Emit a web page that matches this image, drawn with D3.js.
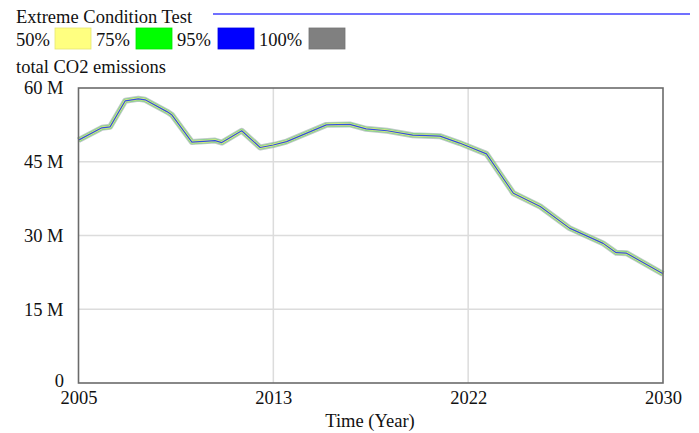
<!DOCTYPE html>
<html><head><meta charset="utf-8">
<script src="https://cdn.jsdelivr.net/npm/d3@7"></script>
<style>
html,body{margin:0;padding:0;background:#fff;}
svg{display:block;}
svg text{font-family:"Liberation Serif","Times New Roman",serif;}
</style></head>
<body>
<svg id="c" width="699" height="433"></svg>
<script>
// ---- data ----
const title = "Extreme Condition Test";
const variableName = "total CO2 emissions";
const legendLabels = ["50%", "75%", "95%", "100%"];
const legendColors = ["#ffff80", "#00ff00", "#0000ff", "#808080"];
const years = [2005, 2006, 2006.35, 2007, 2007.56, 2007.85, 2008.78, 2009, 2009.85, 2010.84,
  2011.13, 2011.98, 2012.77, 2013.33, 2013.9, 2015.6, 2016.6, 2017.3, 2018.2, 2019.3,
  2020.46, 2021.3, 2022.45, 2023.6, 2024.75, 2026, 2027.44, 2028, 2028.44, 2030];
const emissions = [49.4, 51.9, 52.1, 57.4, 57.8, 57.6, 55.2, 54.5, 49.0, 49.3,
  48.9, 51.3, 47.9, 48.4, 49.1, 52.5, 52.6, 51.7, 51.3, 50.4,
  50.2, 48.8, 46.6, 38.6, 35.9, 31.5, 28.4, 26.5, 26.4, 22.2]; // millions
const xTicks = [2005, 2005 + 25/3, 2005 + 50/3, 2030];
const xTickLabels = ["2005", "2013", "2022", "2030"];
const yTicks = [0, 15, 30, 45, 60];
const yTickLabels = ["0", "15 M", "30 M", "45 M", "60 M"];
const xTitle = "Time (Year)";

// ---- layout ----
const FS = 18.5;
const svg = d3.select("#c");
const L = 78.5, R = 663, T = 88, B = 383;
const x = d3.scaleLinear().domain([2005, 2030]).range([L, R]);
const y = d3.scaleLinear().domain([0, 60]).range([B, T]);

// header
svg.append("text").attr("x", 16).attr("y", 23).attr("font-size", FS).attr("fill", "#111").text(title);
svg.append("line").attr("x1", 213).attr("x2", 690).attr("y1", 14).attr("y2", 14)
  .attr("stroke", "#4040ff").attr("stroke-width", 1.3);

// legend
const legX = [16, 96, 177, 259];
const swX = [55, 136, 218, 309];
legendLabels.forEach((lab, i) => {
  svg.append("text").attr("x", legX[i]).attr("y", 46).attr("font-size", FS).attr("fill", "#111").text(lab);
  svg.append("rect").attr("x", swX[i]).attr("y", 28).attr("width", 36).attr("height", 21)
    .attr("fill", legendColors[i]).attr("stroke", d3.color(legendColors[i]).darker(0.3)).attr("stroke-width", 0.8);
});
svg.append("text").attr("x", 16).attr("y", 73).attr("font-size", FS).attr("fill", "#111").text(variableName);

// grid
const g = svg.append("g");
xTicks.slice(1, -1).forEach(t => g.append("line").attr("x1", x(t)).attr("x2", x(t)).attr("y1", T).attr("y2", B)
  .attr("stroke", "#dcdcdc").attr("stroke-width", 1.5));
yTicks.slice(1, -1).forEach(t => g.append("line").attr("x1", L).attr("x2", R).attr("y1", y(t)).attr("y2", y(t))
  .attr("stroke", "#dcdcdc").attr("stroke-width", 1.5));

// axes via d3
const yAxis = d3.axisLeft(y).tickValues(yTicks.slice(1)).tickSize(0).tickPadding(15)
  .tickFormat((d) => yTickLabels[yTicks.indexOf(d)]);
const ya = svg.append("g").attr("transform", `translate(${L},0)`).call(yAxis);
ya.select(".domain").remove();
ya.selectAll("text").attr("font-family", "Liberation Serif").attr("font-size", FS).attr("fill", "#111");
svg.append("text").attr("x", 64).attr("y", 387).attr("text-anchor", "end").attr("font-size", FS).attr("fill", "#111").text(yTickLabels[0]);

const xAxis = d3.axisBottom(x).tickValues(xTicks).tickSize(0).tickPadding(8)
  .tickFormat((d, i) => xTickLabels[i]);
const xa = svg.append("g").attr("transform", `translate(0,${B})`).call(xAxis);
xa.select(".domain").remove();
xa.selectAll("text").attr("font-family", "Liberation Serif").attr("font-size", FS).attr("fill", "#111");
svg.append("text").attr("x", 370).attr("y", 427).attr("text-anchor", "middle").attr("font-size", FS).attr("fill", "#111").text(xTitle);

// series (bands drawn as stacked strokes)
const line = d3.line().x((d, i) => x(years[i])).y(d => y(d));
const layers = [
  {c: "#8a9a9a", w: 6, o: 0.55},
  {c: "#7fd67f", w: 4.2, o: 0.9},
  {c: "#e8f080", w: 2.6, o: 1},
  {c: "#2f4fe0", w: 1.2, o: 1}
];
layers.forEach(ly => {
  svg.append("path").datum(emissions).attr("d", line).attr("fill", "none")
    .attr("stroke", ly.c).attr("stroke-width", ly.w).attr("stroke-opacity", ly.o)
    .attr("stroke-linejoin", "round");
});

// frame
svg.append("rect").attr("x", L).attr("y", T).attr("width", R - L).attr("height", B - T)
  .attr("fill", "none").attr("stroke", "#6b6b6b").attr("stroke-width", 1.6);
</script>
</body></html>
